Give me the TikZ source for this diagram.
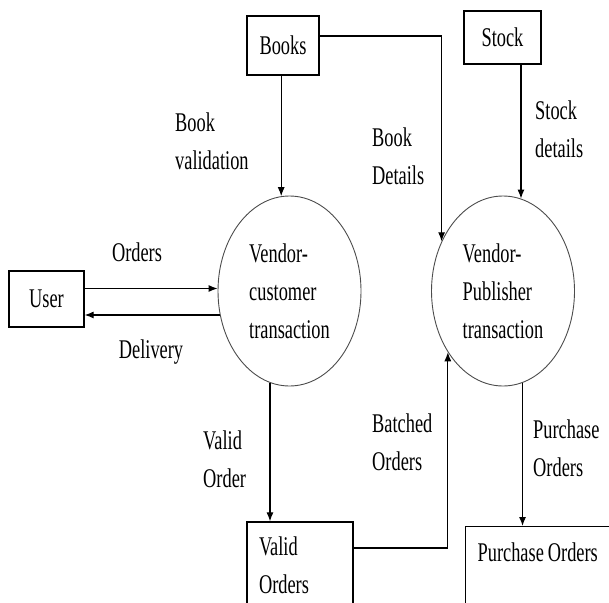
\documentclass[tikz,border=0pt]{standalone}
\usepackage{fontspec}
\setmainfont[FakeStretch=0.68]{Liberation Serif}
\usetikzlibrary{arrows.meta,shapes.geometric}

\begin{document}
\begin{tikzpicture}[x=1pt,y=-1pt,>={Latex[length=9pt,width=7pt]},
                    font=\fontsize{27}{38}\selectfont,
                    store/.style={draw,line width=1.3pt,inner sep=0pt},
                    proc/.style={draw=black!70,line width=.9pt,ellipse,
                      inner sep=0pt,minimum width=143pt,
                      minimum height=190pt,align=left},
                    flow/.style={->,line width=1.1pt},
                    lbl/.style={anchor=west,align=left,inner sep=0pt}]
  \useasboundingbox (0,0) rectangle (609,602);
  \clip (0,0) rectangle (609,602);
  % Stores, user and the two processes.
  \node[store,minimum width=72pt,minimum height=59pt]
       (books) at (283,45.5) {Books};
  \node[store,minimum width=77pt,minimum height=53pt]
       (stock) at (502.5,37.5) {Stock\hspace{8pt}};
  \node[store,minimum width=75pt,minimum height=56pt]
       (user) at (46.5,299) {User\hspace{14pt}};
  \node[proc] (vc) at (289.5,291) {Vendor-\\customer\\transaction};
  \node[proc] (vp) at (503,291) {Vendor-\\Publisher\\transaction};
  \node[store,text width=82pt,inner xsep=12pt,minimum height=86pt,
        align=left] (vo) at (300,565) {Valid\\Orders};
  \node[store,anchor=north west,text width=136pt,inner xsep=12pt,
        inner ysep=14pt,text height=21pt,text depth=60pt,align=left]
       (po) at (465,526) {Purchase\kern4pt Orders};
  % Data flows.
  \draw[flow] (books.south -| vc.95) -- (vc.95);
  \draw[flow] ([yshift=9.5pt]books.east) -| (vp.141);
  \draw[flow] (stock.south -| vp.79) -- (vp.79);
  \draw[flow] (user.east |- vc.178) -- (vc.178);
  \draw[flow] (vc.199) -- (vc.199 -| user.east);
  \draw[flow] (vc.258) -- (vc.258 |- vo.north);
  \draw[flow] ([yshift=17pt]vo.east) -| (vp.228);
  \draw[flow] (vp.282) -- (vp.282 |- po.north);
  % Flow labels.
  \node[lbl] (bv) at (175,141.5) {Book\\validation};
  \node[lbl] (bd) at (372,156.5) {Book\\Details};
  \node[lbl] (sd) at (535,129) {Stock\\details};
  \node[inner sep=0pt] (ol) at (137,252) {Orders};
  \node[inner sep=0pt] (dl) at (151,352) {Delivery};
  \node[lbl] (vl) at (203,459) {Valid\\Order};
  \node[lbl] (bl) at (372,442.5) {Batched\\Orders};
  \node[lbl] (pl) at (533,448.5) {Purchase\\Orders};
\end{tikzpicture}
\end{document}
